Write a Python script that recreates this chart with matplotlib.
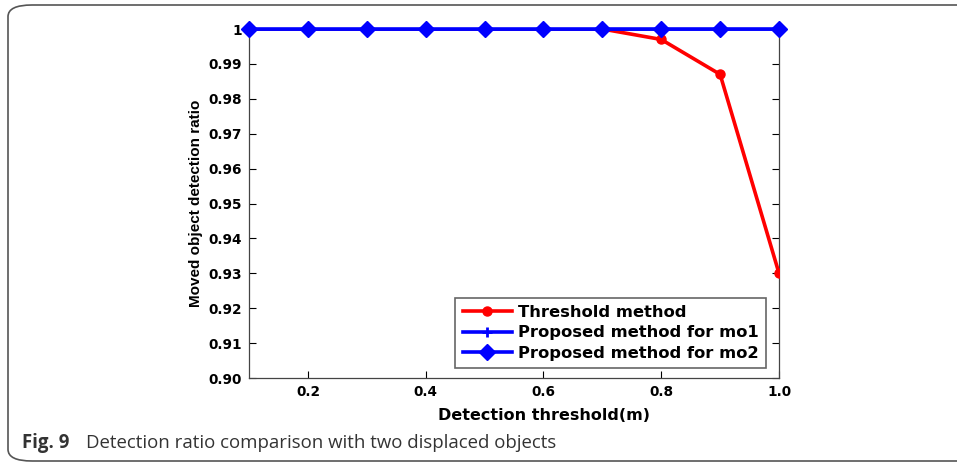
import matplotlib
matplotlib.use("Agg")
import matplotlib.pyplot as plt
from matplotlib.patches import FancyBboxPatch
from matplotlib.ticker import FixedLocator, FixedFormatter

# data
thresholds = [0.1, 0.2, 0.3, 0.4, 0.5, 0.6, 0.7, 0.8, 0.9, 1.0]
threshold_method = [1.0, 1.0, 1.0, 1.0, 1.0, 1.0, 1.0, 0.997, 0.987, 0.930]
proposed_mo1 = [1.0, 1.0, 1.0, 1.0, 1.0, 1.0, 1.0, 1.0, 1.0, 1.0]
proposed_mo2 = [1.0, 1.0, 1.0, 1.0, 1.0, 1.0, 1.0, 1.0, 1.0, 1.0]

xtick_vals = [0.2, 0.4, 0.6, 0.8, 1.0]
xtick_labels = ["0.2", "0.4", "0.6", "0.8", "1.0"]
ytick_vals = [0.90, 0.91, 0.92, 0.93, 0.94, 0.95, 0.96, 0.97, 0.98, 0.99, 1.0]
ytick_labels = ["0.90", "0.91", "0.92", "0.93", "0.94", "0.95", "0.96",
                "0.97", "0.98", "0.99", "1"]

fig = plt.figure(figsize=(9.57, 4.65), dpi=100)

# rounded journal frame
frame = FancyBboxPatch((8 / 957, 4 / 465), 1.2, 1 - 9 / 465,
                       boxstyle="round,pad=0,rounding_size=0.025",
                       transform=fig.transFigure, fill=False,
                       edgecolor="#555555", linewidth=1.2, clip_on=False)
fig.patches.append(frame)

ax = fig.add_axes([249 / 957, 1 - 378 / 465, 530 / 957, 349 / 465])

ax.plot(thresholds, threshold_method, color="red", lw=2.6, marker="o",
        ms=6.5, label="Threshold method", zorder=3)
ax.plot(thresholds, proposed_mo1, color="blue", lw=2.6, marker="+",
        ms=7, mew=2, label="Proposed method for mo1", zorder=4)
ax.plot(thresholds, proposed_mo2, color="blue", lw=2.6, marker="D",
        ms=8, label="Proposed method for mo2", zorder=5, clip_on=False)

ax.set_xlim(0.1, 1.0)
ax.set_ylim(0.90, 1.0)
ax.xaxis.set_major_locator(FixedLocator(xtick_vals))
ax.xaxis.set_major_formatter(FixedFormatter(xtick_labels))
ax.yaxis.set_major_locator(FixedLocator(ytick_vals))
ax.yaxis.set_major_formatter(FixedFormatter(ytick_labels))
ax.tick_params(which="both", direction="in", length=5, width=0.8,
               right=True, top=False, labelsize=9.8, pad=5)
for lab in ax.get_xticklabels() + ax.get_yticklabels():
    lab.set_fontweight("bold")
    lab.set_family("DejaVu Sans")
ax.spines["top"].set_visible(False)
for s in ["left", "right", "bottom"]:
    ax.spines[s].set_linewidth(0.9)
    ax.spines[s].set_color("#444444")

ax.set_xlabel("Detection threshold(m)", family="DejaVu Sans", weight="bold",
              fontsize=11.5, va="center")
ax.xaxis.set_label_coords((544 - 249) / 530, (378 - 415) / 349)
ax.set_ylabel("Moved object detection ratio", family="Liberation Sans",
              weight="bold", fontsize=11, labelpad=4)

leg = ax.legend(loc="lower right", bbox_to_anchor=(0.9755, 0.029),
                prop={"family": "DejaVu Sans", "weight": "bold", "size": 11.8},
                fancybox=False, edgecolor="#666666", framealpha=1,
                handlelength=3.0, borderpad=0.45, labelspacing=0.32,
                handletextpad=0.37, borderaxespad=0)
leg.get_frame().set_linewidth(1.2)

fig.text(22 / 957, 1 - 443 / 465, "Fig. 9", family="Open Sans",
         weight="bold", fontsize=13.4, color="#333333", va="center")
fig.text(86 / 957, 1 - 443 / 465,
         "Detection ratio comparison with two displaced objects",
         family="Open Sans", fontsize=13.4, color="#333333", va="center")

fig.savefig("out.png", dpi=100)
